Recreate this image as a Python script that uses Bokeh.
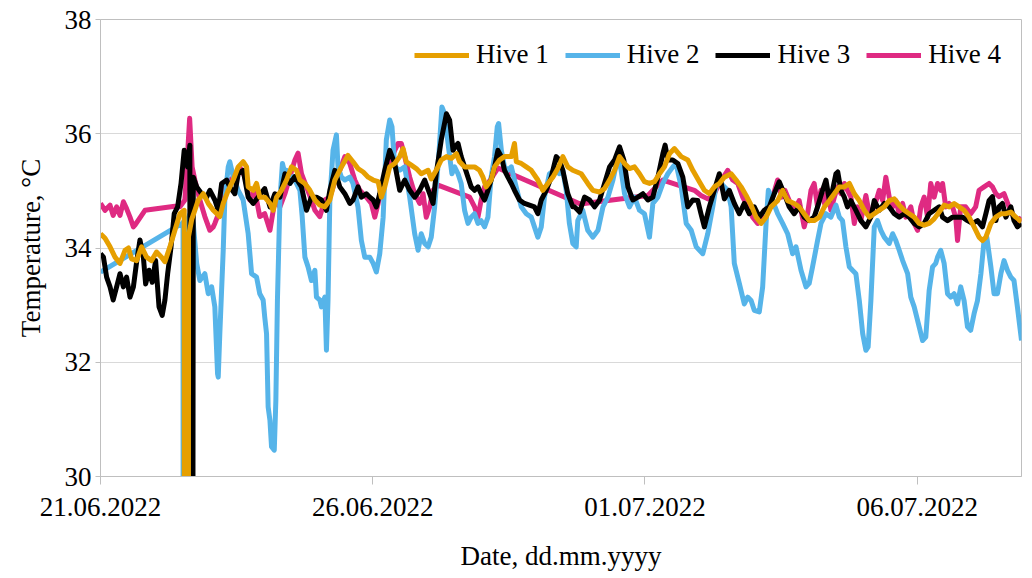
import pandas as pd
from bokeh.plotting import figure
from bokeh.models import Range1d, FixedTicker, Legend, LegendItem
from bokeh.embed import file_html
from bokeh.resources import INLINE

# ---------------- data (hours since 21.06.2022 00:00, temperature in °C) ----------------
start_label = "21.06.2022"
x_tick_labels = ["21.06.2022", "26.06.2022", "01.07.2022", "06.07.2022"]
x_end_hours = 406.0
y_ticks = [30, 32, 34, 36, 38]
series_names = ["Hive 1", "Hive 2", "Hive 3", "Hive 4"]

hive1 = [(0.0,34.25),(2.0,34.17),(4.2,34.02),(6.4,33.84),(8.6,33.73),(10.8,33.96),(12.3,34.0),(13.7,33.81),
 (15.9,33.78),(18.1,34.02),(20.3,33.84),(22.5,33.78),(24.7,33.93),(26.9,33.84),(28.4,33.76),(30.6,34.02),
 (32.8,34.31),(35.0,34.6),(36.9,34.66),(37.2,0.0),(38.6,0.0),(38.8,34.2),(40.2,34.5),(41.6,34.66),(43.1,34.84),
 (45.3,34.95),(47.5,34.78),(49.7,34.66),(52.6,34.55),(54.1,34.78),(56.3,35.01),(58.5,35.19),(60.7,35.42),
 (62.9,35.51),(64.4,35.42),(65.1,35.07),(67.3,35.01),(68.8,35.13),(70.2,34.89),(72.4,34.89),(74.7,34.78),
 (76.1,34.66),(77.6,34.89),(79.8,35.01),(82.0,35.19),(84.2,35.42),(86.4,35.36),(87.9,35.19),(90.1,35.13),
 (92.3,35.01),(94.5,34.84),(96.7,34.75),(98.9,34.72),(101.1,34.84),(103.3,35.19),(106.2,35.42),(109.1,35.62),
 (111.3,35.51),(113.5,35.39),(115.8,35.33),(118.0,35.24),(120.2,35.19),(122.4,35.16),(123.8,34.89),(125.3,35.07),
 (127.5,35.42),(129.7,35.48),(131.9,35.6),(133.4,35.74),(134.8,35.51),(137.0,35.45),(139.2,35.39),(141.4,35.3),
 (144.4,35.36),(145.8,35.21),(148.0,35.36),(150.2,35.54),(152.5,35.6),(154.7,35.57),(156.9,35.65),(158.3,35.51),
 (160.5,35.42),(162.7,35.42),(164.9,35.42),(167.1,35.36),(168.6,35.24),(170.0,35.07),(172.2,35.19),(173.7,35.42),
 (175.9,35.54),(178.1,35.6),(181.1,35.6),(182.5,35.83),(183.3,35.51),(185.5,35.48),(187.7,35.42),(189.9,35.36),
 (192.8,35.19),(195.0,35.01),(197.2,35.13),(199.4,35.24),(201.6,35.39),(203.8,35.6),(206.0,35.42),(208.2,35.36),
 (211.9,35.3),(214.8,35.13),(217.0,35.01),(220.0,34.98),(222.2,35.04),(224.4,35.19),(226.6,35.36),(228.8,35.6),
 (231.0,35.48),(233.2,35.39),(235.4,35.42),(237.6,35.3),(239.8,35.16),(242.0,35.13),(244.2,35.16),(246.4,35.3),
 (248.6,35.42),(250.8,35.65),(253.0,35.74),(256.0,35.6),(258.9,35.54),(261.1,35.36),(264.0,35.16),(266.2,35.01),
 (268.4,34.95),(270.6,35.07),(272.8,35.13),(275.0,35.24),(278.0,35.3),(280.2,35.19),(282.4,35.07),(284.6,34.92),
 (286.8,34.75),(289.0,34.54),(291.2,34.43),(293.4,34.54),(295.6,34.72),(298.5,34.83),(300.7,35.01),(302.9,34.83),
 (305.8,34.78),(308.0,34.72),(310.2,34.6),(312.4,34.48),(314.6,34.48),(316.9,34.54),(319.1,34.72),(321.3,34.83),
 (323.5,34.95),(325.7,35.07),(327.9,35.07),(330.1,35.13),(332.3,34.95),(334.5,34.83),(336.7,34.66),(338.9,34.54),
 (341.1,34.6),(343.3,34.66),(345.5,34.72),(347.7,34.83),(349.9,34.86),(352.1,34.75),(354.3,34.66),(356.5,34.6),
 (358.7,34.54),(360.9,34.43),(363.1,34.4),(365.3,34.43),(367.5,34.51),(369.7,34.63),(371.9,34.75),(374.1,34.72),
 (376.3,34.78),(378.5,34.72),(380.7,34.66),(382.9,34.54),(385.1,34.37),(387.3,34.19),(388.8,34.13),(390.3,34.19),
 (392.5,34.43),(394.7,34.54),(396.9,34.6),(399.1,34.6),(401.3,34.63),(403.5,34.54),(406.0,34.46)]

hive2 = [(0.0,33.58),(36.0,34.43),(36.4,34.45),(36.5,0.0),(37.7,0.0),(37.9,34.45),(39.5,34.6),(40.9,34.43),
 (42.4,33.73),(43.8,33.43),(46.0,33.55),(47.5,33.2),(49.0,33.32),(50.4,32.97),(51.6,31.8),(51.9,31.74),(52.6,32.5),
 (54.1,33.96),(54.8,34.84),(56.3,35.42),(57.0,35.51),(58.5,35.25),(60.7,35.01),(62.9,34.84),(65.1,34.25),(66.6,33.55),
 (68.8,33.49),(70.2,33.2),(71.7,33.09),(72.4,32.79),(73.2,32.5),(73.9,31.22),(74.7,30.98),(75.4,30.52),(76.6,30.46),
 (77.3,31.33),(78.0,33.09),(79.1,34.84),(80.2,35.48),(81.3,35.3),(82.0,35.36),(83.5,35.13),(84.9,35.25),(86.4,35.13),
 (87.9,35.01),(88.9,34.55),(90.1,33.84),(91.5,33.67),(93.0,33.43),(94.5,33.61),(95.2,33.14),(96.7,33.09),(97.4,32.97),
 (98.9,33.14),(99.6,32.21),(100.3,33.09),(101.1,34.84),(102.5,35.71),(104.0,35.98),(104.7,35.42),(106.2,35.24),
 (107.7,35.19),(109.9,35.24),(111.3,35.13),(113.5,34.72),(115.0,34.13),(116.5,33.84),(118.7,33.84),(120.2,33.73),
 (121.6,33.58),(123.1,33.9),(124.6,34.54),(126.0,35.89),(127.5,36.24),(128.5,36.12),(129.7,35.42),(131.9,35.36),
 (134.1,35.42),(136.3,34.89),(138.5,34.25),(140.0,33.96),(141.4,34.25),(142.9,34.08),(144.4,34.02),(145.8,34.19),
 (147.3,34.72),(149.1,35.6),(150.5,36.47),(151.7,36.35),(153.2,35.83),(154.9,35.3),(156.1,35.42),(157.6,35.3),
 (159.0,35.13),(160.5,34.66),(162.0,34.43),(163.4,34.54),(164.9,34.6),(166.4,34.43),(167.8,34.48),(169.3,34.37),
 (170.8,34.54),(172.2,35.24),(173.7,35.6),(174.9,36.12),(175.5,36.18),(176.7,35.71),(178.1,35.42),(179.6,35.36),
 (181.1,35.42),(182.5,35.19),(184.0,34.95),(185.5,34.72),(187.7,34.6),(189.9,34.54),(191.3,34.37),(192.8,34.19),
 (194.3,34.37),(195.7,34.89),(197.9,35.3),(200.1,35.36),(202.3,35.3),(203.8,35.36),(205.3,35.01),(206.7,34.43),
 (208.2,34.08),(209.7,34.02),(210.4,34.48),(212.6,34.66),(214.8,34.31),(217.0,34.19),(219.3,34.31),(221.5,34.72),
 (223.7,34.89),(225.9,35.19),(228.1,35.6),(229.5,35.36),(231.0,34.95),(233.2,34.72),(235.4,34.89),(237.6,34.66),
 (239.8,34.6),(242.0,34.19),(243.5,34.78),(245.7,34.89),(247.9,35.13),(250.1,35.3),(252.3,35.42),(253.7,35.48),
 (256.0,35.07),(258.2,34.43),(260.4,34.31),(262.6,34.02),(265.5,33.9),(267.7,34.25),(269.9,34.72),(271.3,35.07),
 (272.8,35.19),(274.3,35.1),(276.5,35.01),(278.0,34.72),(279.4,33.73),(281.6,33.38),(283.8,33.02),(285.3,33.14),
 (286.8,33.08),(288.2,32.91),(290.4,32.88),(291.9,33.32),(293.4,34.43),(294.4,35.01),(296.3,34.83),(298.5,34.6),
 (300.7,34.43),(302.9,34.25),(305.1,33.9),(306.6,34.02),(308.8,33.61),(311.0,33.32),(312.4,33.38),(313.9,33.67),
 (316.1,34.13),(317.6,34.43),(319.8,34.6),(322.0,34.54),(324.2,34.75),(325.7,34.54),(327.1,34.48),(328.6,34.02),
 (330.1,33.67),(331.5,33.61),(333.0,33.55),(334.5,33.08),(336.0,32.5),(337.4,32.21),(338.4,32.27),(339.6,33.08),
 (341.1,34.37),(342.5,34.48),(344.0,34.31),(345.5,34.19),(347.7,34.08),(349.2,34.25),(350.6,34.13),(352.1,33.96),
 (353.6,33.78),(355.8,33.55),(357.2,33.14),(358.7,32.97),(360.9,32.62),(362.4,32.38),(363.8,32.44),(365.3,33.26),
 (366.8,33.67),(368.2,33.73),(369.0,33.84),(370.4,33.96),(371.9,33.73),(373.4,33.2),(374.8,33.14),(376.3,33.2),
 (377.8,33.02),(379.2,33.32),(380.7,33.08),(382.2,32.62),(383.6,32.56),(385.1,32.85),(386.6,33.08),(388.1,33.55),
 (389.5,34.13),(390.7,34.19),(392.5,33.67),(393.9,33.2),(395.4,33.2),(396.9,33.55),(398.3,33.78),(399.8,33.61),
 (401.3,33.49),(402.7,33.43),(404.2,32.97),(406.0,32.38)]

hive3 = [(0.0,33.9),(1.3,33.84),(2.7,33.49),(4.2,33.32),(5.6,33.09),(7.1,33.32),(8.6,33.55),(10.1,33.32),(11.5,33.49),
 (13.0,33.14),(14.5,33.32),(16.0,33.78),(17.4,34.14),(18.9,33.84),(19.9,33.37),(21.4,33.61),(22.8,33.4),(24.3,33.78),
 (25.8,32.97),(27.2,32.82),(28.4,33.09),(29.6,33.55),(31.1,34.02),(32.5,34.6),(34.0,34.72),(35.5,35.13),(36.9,35.71),
 (38.4,35.42),(39.4,35.8),(39.5,0.0),(40.0,0.0),(40.9,35.24),(42.4,35.07),(44.6,34.95),(46.8,34.89),(48.2,35.01),
 (50.4,34.84),(51.9,34.66),(53.4,35.13),(55.6,35.19),(57.0,35.07),(59.2,34.95),(60.7,35.3),(62.9,35.36),(65.1,34.89),
 (67.3,34.78),(69.5,34.89),(72.4,35.04),(74.7,34.72),(76.9,34.95),(79.1,34.89),(81.3,35.3),(83.5,35.13),(85.7,35.25),
 (88.6,35.07),(90.8,34.66),(93.0,34.89),(95.2,34.89),(97.4,34.84),(99.6,34.66),(101.1,35.01),(103.3,35.36),
 (105.5,35.07),(107.7,34.95),(109.9,34.78),(111.3,34.84),(113.5,35.07),(115.0,34.89),(117.2,34.95),(118.7,34.89),
 (120.2,34.84),(121.6,34.72),(123.1,34.95),(125.3,35.36),(127.5,35.71),(129.7,35.48),(131.9,35.01),(134.1,35.19),
 (136.3,35.01),(138.5,34.89),(140.7,35.01),(142.9,35.19),(145.1,34.95),(146.6,34.78),(148.0,35.3),(150.2,35.89),
 (152.5,36.35),(153.9,36.24),(155.4,35.71),(156.9,35.8),(157.6,35.83),(159.0,35.6),(160.5,35.42),(162.0,35.24),
 (163.4,35.07),(164.9,35.01),(166.4,35.07),(167.8,34.95),(169.3,34.84),(170.8,35.01),(172.2,35.19),(173.7,35.42),
 (175.2,35.71),(176.7,35.6),(178.1,35.36),(179.6,35.24),(181.1,35.13),(182.5,35.01),(184.7,34.84),(186.9,34.78),
 (189.1,34.75),(191.3,34.72),(192.8,34.6),(194.3,34.84),(196.5,35.01),(198.7,35.24),(200.9,35.6),(202.3,35.54),
 (203.8,35.36),(206.0,34.95),(208.2,34.72),(209.0,34.72),(211.2,34.63),(213.4,34.89),(215.6,34.84),(217.8,34.72),
 (220.0,34.84),(222.2,35.13),(224.4,35.42),(226.6,35.54),(228.8,35.77),(230.7,35.54),(232.5,35.07),(234.7,34.84),
 (236.9,34.89),(239.1,34.95),(241.3,34.84),(243.5,34.89),(245.7,35.24),(247.9,35.65),(248.9,35.8),(250.1,35.54),
 (252.3,35.54),(254.5,35.48),(256.7,35.24),(258.9,34.72),(261.1,34.84),(263.3,34.83),(264.7,34.6),(266.2,34.37),
 (268.4,34.72),(270.6,35.01),(272.8,35.3),(275.0,34.86),(277.2,35.01),(279.4,34.78),(281.6,34.6),(283.8,34.78),
 (286.0,34.6),(288.2,34.72),(290.4,34.54),(292.6,34.66),(294.8,34.72),(297.0,34.95),(299.2,35.16),(301.4,34.95),
 (303.6,34.72),(305.8,34.6),(308.0,34.72),(310.2,34.54),(312.4,34.48),(314.6,34.54),(316.1,34.72),(318.3,35.01),
 (319.8,35.19),(321.3,34.83),(322.7,35.01),(324.2,35.3),(325.0,35.33),(326.4,35.01),(327.9,34.89),(329.3,34.72),
 (330.8,34.83),(333.0,34.66),(335.2,34.48),(337.4,34.37),(339.6,34.54),(341.1,34.83),(343.3,34.66),(345.5,34.78),
 (347.7,34.72),(349.9,34.6),(352.1,34.54),(354.3,34.6),(356.5,34.54),(358.7,34.43),(360.9,34.37),(363.1,34.43),
 (365.3,34.6),(367.5,34.66),(369.7,34.72),(371.2,34.54),(373.4,34.48),(375.6,34.54),(377.8,34.54),(380.0,34.54),
 (382.2,34.48),(384.4,34.43),(386.6,34.48),(388.8,34.37),(390.3,34.6),(391.7,34.83),(393.2,34.9),(394.7,34.48),
 (396.1,34.72),(397.6,34.78),(399.1,34.54),(401.3,34.72),(402.7,34.48),(404.2,34.37),(406.0,34.43)]

hive4 = [(0.0,34.78),(2.0,34.66),(4.2,34.75),(5.6,34.57),(7.1,34.72),(8.6,34.57),(10.1,34.81),(11.5,34.69),
 (13.0,34.54),(14.5,34.37),(15.2,34.4),(19.6,34.66),(32.8,34.73),(35.0,34.72),(37.2,34.84),(39.3,36.27),(40.4,35.42),
 (41.6,35.19),(43.8,34.84),(46.0,34.55),(48.2,34.31),(49.7,34.37),(50.4,34.43),(52.6,34.66),(54.8,35.07),(57.0,35.19),
 (59.2,35.25),(61.4,35.42),(63.6,35.25),(65.8,34.84),(68.0,35.01),(70.2,34.55),(72.4,34.6),(74.7,34.31),(76.9,34.84),
 (79.1,34.72),(81.3,34.95),(83.5,35.25),(85.7,35.54),(87.1,35.66),(88.6,35.3),(90.8,35.07),(93.0,34.84),(94.5,34.66),
 (96.7,34.55),(98.9,34.84),(101.1,34.89),(104.0,35.25),(105.5,35.36),(107.7,35.6),(109.9,35.48),(112.1,35.19),
 (114.3,35.01),(117.2,34.89),(119.4,34.78),(120.9,34.54),(122.4,34.78),(123.8,35.01),(126.8,35.42),(129.7,35.71),
 (131.2,35.83),(132.6,35.83),(134.1,35.6),(136.3,35.24),(138.5,34.95),(140.7,34.78),(142.2,34.95),(143.6,34.54),
 (145.1,34.72),(146.6,35.01),(148.8,35.1),(162.7,34.89),(164.9,34.72),(166.4,34.54),(167.8,34.84),(169.3,35.07),
 (170.8,35.13),(175.2,35.4),(211.5,34.77),(241.3,34.92),(247.9,35.19),(261.8,35.01),(264.7,34.92),(267.7,34.86),
 (270.6,34.95),(272.8,35.13),(276.5,35.36),(278.7,35.19),(280.9,35.13),(283.1,34.89),(285.3,34.72),(287.5,34.54),
 (289.7,34.43),(291.9,34.6),(294.1,34.72),(296.3,34.89),(298.5,35.19),(300.3,34.89),(301.7,35.01),(303.6,34.83),
 (305.8,34.66),(308.0,34.83),(310.2,34.37),(311.7,34.6),(313.2,35.01),(314.6,35.13),(316.1,34.72),(317.6,35.01),
 (319.1,34.78),(320.5,35.01),(322.0,34.66),(323.5,34.89),(324.9,35.07),(326.4,34.95),(327.9,35.13),(329.3,35.01),
 (330.8,34.89),(332.3,34.43),(333.7,34.72),(335.2,34.48),(337.4,34.92),(338.9,34.6),(341.1,34.72),(343.3,35.01),
 (344.8,34.83),(346.2,35.24),(347.7,34.89),(349.2,34.72),(350.6,34.83),(352.1,34.6),(353.6,34.78),(355.0,34.54),
 (357.2,34.72),(358.7,34.43),(360.2,34.31),(361.6,34.72),(363.1,34.89),(364.6,34.54),(366.0,35.13),(367.5,34.89),
 (369.0,35.13),(370.4,35.01),(371.2,35.13),(372.6,34.72),(374.1,34.78),(375.6,34.72),(377.0,34.54),(377.8,34.13),
 (379.2,34.72),(381.4,34.72),(383.6,34.6),(385.8,34.72),(387.3,35.01),(389.5,35.07),(391.7,35.13),(393.2,35.07),
 (394.7,34.95),(396.1,34.9),(398.3,34.95),(400.5,34.72),(402.7,34.54),(404.9,34.48),(406.0,34.54)]

# ---------------- styling ----------------
colors = {"Hive 1": "#E69F00", "Hive 2": "#56B4E9", "Hive 3": "#000000", "Hive 4": "#DF2A82"}
FONT = "Liberation Serif"
FS = "27px"

t0 = pd.to_datetime(start_label, format="%d.%m.%Y")
tick_hours = [float((pd.to_datetime(s, format="%d.%m.%Y") - t0).total_seconds() / 3600) for s in x_tick_labels]

p = figure(frame_width=921, frame_height=457, output_backend="svg", toolbar_location=None,
           x_range=Range1d(0, x_end_hours), y_range=Range1d(y_ticks[0], y_ticks[-1]),
           min_border_left=100, min_border_right=10, min_border_top=19, min_border_bottom=100,
           background_fill_color="white", border_fill_color="white")

p.outline_line_color = "#bfbfbf"
p.xgrid.visible = False
p.ygrid.ticker = FixedTicker(ticks=y_ticks)
p.ygrid.grid_line_color = "#d9d9d9"
p.ygrid.grid_line_width = 1

for ax in (p.xaxis[0], p.yaxis[0]):
    ax.axis_line_color = "#bfbfbf"
    ax.major_tick_line_color = "#bfbfbf"
    ax.minor_tick_line_color = None
    ax.major_tick_in = 0
    ax.major_label_text_font = FONT
    ax.major_label_text_font_size = FS
    ax.major_label_text_color = "black"
    ax.axis_label_text_font = FONT
    ax.axis_label_text_font_size = FS
    ax.axis_label_text_font_style = "normal"
    ax.axis_label_text_color = "black"

p.xaxis.ticker = FixedTicker(ticks=tick_hours)
p.xaxis.major_label_overrides = {h: s for h, s in zip(tick_hours, x_tick_labels)}
p.xaxis.major_tick_out = 8
p.xaxis.major_label_standoff = 13
p.xaxis.axis_label = "Date, dd.mm.yyyy"
p.xaxis.axis_label_standoff = 22

p.yaxis.ticker = FixedTicker(ticks=y_ticks)
p.yaxis.major_tick_out = 5
p.yaxis.major_label_standoff = 4
p.yaxis.axis_label = "Temperature, °C"
p.yaxis.axis_label_standoff = 16

data = {"Hive 1": hive1, "Hive 2": hive2, "Hive 3": hive3, "Hive 4": hive4}
renderers = {}
for name in ["Hive 4", "Hive 2", "Hive 3", "Hive 1"]:
    xs = [a for a, b in data[name]]
    ys = [b for a, b in data[name]]
    renderers[name] = p.line(xs, ys, line_width=5, line_color=colors[name], line_join="round")

legend = Legend(items=[LegendItem(label=n, renderers=[renderers[n]]) for n in series_names],
                orientation="horizontal", location=(314, 406),
                glyph_width=55, glyph_height=20, label_standoff=7, spacing=16,
                padding=0, margin=0, border_line_color=None, background_fill_alpha=0,
                label_text_font=FONT, label_text_font_size=FS, label_text_color="black")
p.add_layout(legend)

open("out.html", "w").write(file_html(p, INLINE))
